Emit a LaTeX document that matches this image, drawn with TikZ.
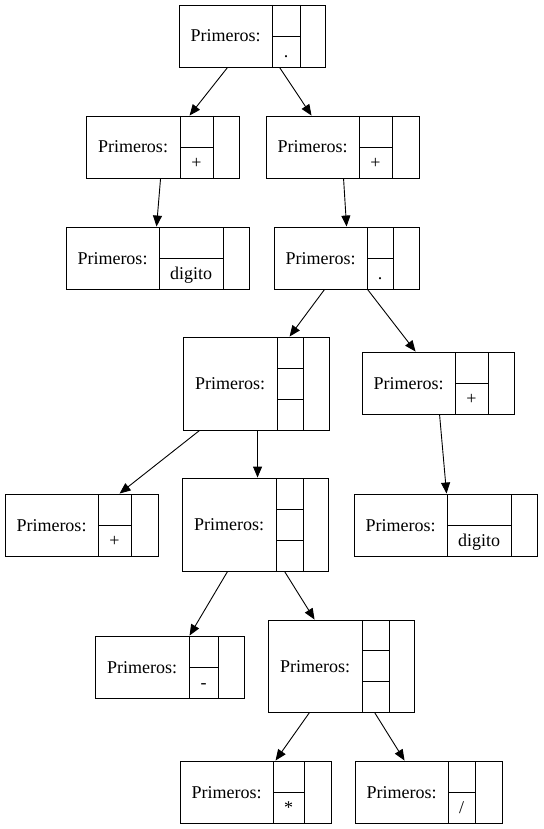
\documentclass[tikz,border=0pt]{standalone}
\usepackage{fontspec}
\setmainfont{Liberation Serif}
\usetikzlibrary{arrows.meta}
\tikzset{
  rec/.style={draw, line width=0.9pt, inner sep=0pt, rectangle},
  recline/.style={line width=0.9pt},
  lbl/.style={inner sep=0pt, anchor=base, font=\fontsize{18}{20}\selectfont},
  edge/.style={line width=0.9pt, -{Triangle[length=11pt,width=9pt]}}
}
% two-row record: name, x1, x2, x3, x4, ytop, ybot, lower text
\newcommand\recTwo[8]{%
  \node[rec, minimum width={(#5-#2)*1pt}, minimum height={(#7-#6)*1pt}] (#1) at ({(#2+#5)/2},{(#6+#7)/2}) {};
  \node[lbl] (#1-l) at ({(#2+#3)/2},{(#6+#7)/2+6}) {Primeros:};
  \draw[recline] (#3,#6) -- (#3,#7) (#4,#6) -- (#4,#7) (#3,{(#6+#7)/2}) -- (#4,{(#6+#7)/2});
  \node[lbl] (#1-v) at ({(#3+#4)/2},{(#6+3*#7)/4+6}) {#8};
}
% three-row record: name, x1, x2, x3, x4, ytop, ybot
\newcommand\recThree[7]{%
  \node[rec, minimum width={(#5-#2)*1pt}, minimum height={(#7-#6)*1pt}] (#1) at ({(#2+#5)/2},{(#6+#7)/2}) {};
  \node[lbl] (#1-l) at ({(#2+#3)/2},{(#6+#7)/2+6}) {Primeros:};
  \draw[recline] (#3,#6) -- (#3,#7) (#4,#6) -- (#4,#7)
    (#3,{(2*#6+#7)/3}) -- (#4,{(2*#6+#7)/3})
    (#3,{(#6+2*#7)/3}) -- (#4,{(#6+2*#7)/3});
}
\begin{document}
\begin{tikzpicture}[x=1pt,y=-1pt]
\useasboundingbox (0,0) rectangle (543,829);
\recTwo{n1}{179}{272}{300}{325}{5}{67}{.}
\recTwo{n2}{86}{180}{213}{239}{116}{178}{+}
\recTwo{n3}{266}{359}{392}{419}{116}{178}{+}
\recTwo{n4}{66}{159}{223}{249}{227}{289}{digito}
\recTwo{n5}{274}{367}{393}{419}{227}{289}{.}
\recThree{n6}{183}{277}{303}{329}{337}{430}
\recTwo{n7}{362}{455}{488}{514}{352}{414}{+}
\recTwo{n8}{5}{98}{131}{158}{494}{556}{+}
\recThree{n9}{182}{276}{303}{328}{478}{571}
\recTwo{n10}{354}{447}{511}{537}{494}{556}{digito}
\recTwo{n11}{95}{189}{218}{244}{636}{698}{-}
\recThree{n12}{268}{362}{389}{414}{620}{712}
\recTwo{n13}{180}{273}{304}{331}{761}{823}{*}
\recTwo{n14}{355}{448}{475}{502}{761}{823}{/}
\draw[edge] ([xshift=49]n1.south west) -- ([xshift=104]n2.north west);
\draw[edge] ([xshift=101]n1.south west) -- ([xshift=46]n3.north west);
\draw[edge] ([xshift=75]n2.south west) -- ([xshift=91]n4.north west);
\draw[edge] ([xshift=78]n3.south west) -- ([xshift=73]n5.north west);
\draw[edge] ([xshift=51]n5.south west) -- ([xshift=107]n6.north west);
\draw[edge] ([xshift=94]n5.south west) -- ([xshift=54]n7.north west);
\draw[edge] ([xshift=17]n6.south west) -- ([xshift=115]n8.north west);
\draw[edge] ([xshift=75]n6.south west) -- ([xshift=76]n9.north west);
\draw[edge] ([xshift=78]n7.south west) -- ([xshift=93]n10.north west);
\draw[edge] ([xshift=46]n9.south west) -- ([xshift=95]n11.north west);
\draw[edge] ([xshift=103]n9.south west) -- ([xshift=47]n12.north west);
\draw[edge] ([xshift=42]n12.south west) -- ([xshift=96]n13.north west);
\draw[edge] ([xshift=107]n12.south west) -- ([xshift=50]n14.north west);
\end{tikzpicture}
\end{document}
